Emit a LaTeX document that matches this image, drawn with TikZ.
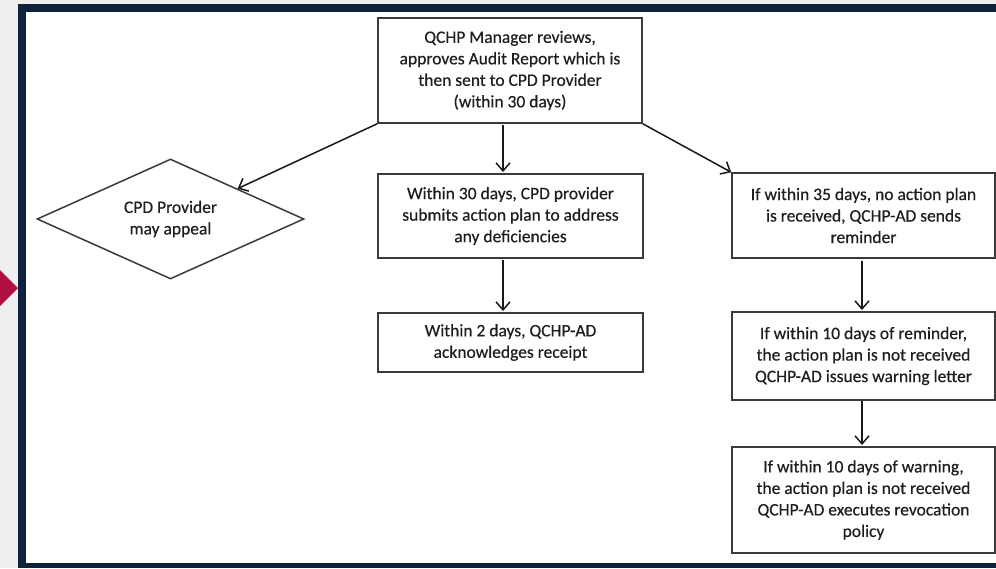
\documentclass[tikz,border=0pt]{standalone}
\usepackage{fontspec}
\setmainfont[FakeBold=0.4]{Carlito}
\usetikzlibrary{arrows.meta,shapes.geometric}
\definecolor{navy}{HTML}{0E223C}
\definecolor{slidebg}{HTML}{EFEFF1}
\definecolor{crimson}{HTML}{B0103F}
\definecolor{txt}{HTML}{1E1E1E}
\definecolor{edge}{HTML}{3A3A3A}
\tikzset{
  box/.style={draw=edge, line width=1.5pt, fill=white, inner sep=0pt, align=center,
    text=txt, font=\fontsize{17.5}{21.5}\selectfont},
  conn/.style={draw=black!90, line width=1.5pt, -{Straight Barb[length=8pt,width=14pt,line width=1.5pt]}},
}
\begin{document}
\begin{tikzpicture}[x=1pt,y=-1pt]
\useasboundingbox (0,0) rectangle (996,568);
\fill[slidebg] (0,0) rectangle (996,568);
\fill[navy] (18,4) rectangle (996,568);
\fill[white] (26,12) rectangle (996,563);
\fill[crimson] (0,270) -- (18,288) -- (0,306) -- cycle;

% boxes
\node[box, minimum width=264pt, minimum height=105pt] (top) at (510,70.5)
  {QCHP Manager reviews,\\approves Audit Report which is\\then sent to CPD Provider\\(within 30 days)};
\node[box, minimum width=265pt, minimum height=84pt] (mid) at (510.5,216)
  {Within 30 days, CPD provider\\submits action plan to address\\any deficiencies};
\node[box, minimum width=265pt, minimum height=59pt] (ack) at (510.5,342.5)
  {Within 2 days, QCHP-AD\\acknowledges receipt};
\node[box, minimum width=263pt, minimum height=85pt] (r1) at (863.5,215.5)
  {If within 35 days, no action plan\\is received, QCHP-AD sends\\reminder};
\node[box, minimum width=263pt, minimum height=88pt] (r2) at (863.5,356)
  {If within 10 days of reminder,\\the action plan is not received\\QCHP-AD issues warning letter};
\node[box, minimum width=263pt, minimum height=106pt] (r3) at (863.5,500)
  {If within 10 days of warning,\\the action plan is not received\\QCHP-AD executes revocation\\policy};
\node[box, diamond, aspect=2.23, minimum width=267pt, minimum height=120pt] (app) at (170.5,219)
  {CPD Provider\\may appeal};

% connectors
\draw[conn] (top.south west) -- (app.north east);
\draw[conn] (503,125) -- (503,172);
\draw[conn] (top.south east) -- (r1.north west);
\draw[conn] (503,260) -- (503,311);
\draw[conn] (862,261) -- (862,310);
\draw[conn] (862,401) -- (862,445);
\end{tikzpicture}
\end{document}
